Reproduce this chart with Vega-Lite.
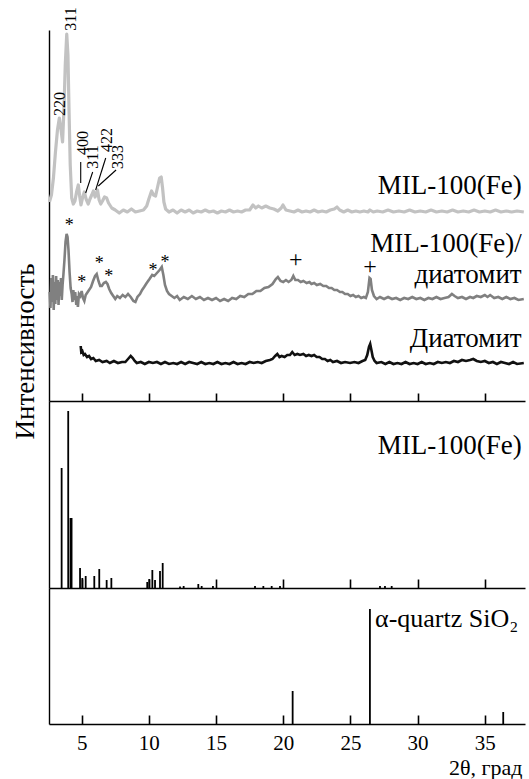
{
  "$schema": "https://vega.github.io/schema/vega-lite/v6.json",
  "autosize": {"type": "none"},
  "padding": {"left": 49, "top": 30, "right": 480, "bottom": 749},
  "bounds": "flush",
  "spacing": 0,
  "config": {
    "view": {"stroke": null},
    "axis": {"domainColor": "#000", "domainWidth": 1.4, "tickColor": "#000", "tickWidth": 1.6, "labelFont": "Liberation Serif", "titleFont": "Liberation Serif", "labelColor": "#000", "titleColor": "#000", "grid": false, "titleFontWeight": "normal"},
    "text": {"font": "Liberation Serif", "color": "#000"}
  },
  "datasets": {
    "mil": [[2.6,198],[2.75,205],[2.9,222],[3.05,248],[3.2,270],[3.34,282],[3.45,272],[3.58,258],[3.68,290],[3.78,335],[3.89,366],[3.98,345],[4.06,290],[4.15,235],[4.26,202],[4.38,196],[4.5,199],[4.62,208],[4.75,215],[4.85,204],[4.95,195],[5.08,203],[5.2,208],[5.33,201],[5.49,196],[5.62,201],[5.75,205],[5.87,209],[6.0,203],[6.1,207],[6.18,210],[6.3,200],[6.42,196],[6.55,199],[6.7,203],[6.86,202],[7.0,197],[7.24,192],[7.5,190],[7.8,187],[8.1,190],[8.4,188],[8.7,191],[9.0,188],[9.3,189],[9.6,190],[9.84,194],[10.0,201],[10.2,209],[10.35,205],[10.5,204],[10.65,213],[10.8,222],[10.92,223],[11.02,212],[11.12,198],[11.25,191],[11.5,188],[11.8,190],[12.1,187],[12.4,190],[12.7,188],[13.0,190],[13.3,187],[13.6,189],[13.9,188],[14.2,190],[14.5,188],[14.8,189],[15.1,187],[15.4,189],[15.7,188],[16.0,190],[16.3,188],[16.6,189],[16.9,188],[17.2,190],[17.5,190],[17.75,195],[17.95,192],[18.15,194],[18.4,192],[18.7,194],[19.0,192],[19.3,191],[19.6,189],[19.85,192],[19.98,195],[20.2,190],[20.5,189],[20.8,188],[21.1,190],[21.4,188],[21.7,189],[22.0,188],[22.3,190],[22.6,188],[22.9,189],[23.2,188],[23.5,190],[23.8,191],[24.0,193],[24.2,190],[24.5,188],[24.8,190],[25.1,188],[25.4,189],[25.7,188],[26.0,189],[26.3,188],[26.45,190],[26.7,188],[27.0,189],[27.4,188],[27.8,190],[28.2,188],[28.6,189],[29.0,188],[29.4,190],[29.8,188],[30.2,189],[30.6,188],[31.0,190],[31.4,188],[31.8,189],[32.2,188],[32.6,190],[33.0,188],[33.4,189],[33.8,188],[34.2,190],[34.6,188],[35.0,189],[35.4,188],[35.8,190],[36.2,188],[36.6,189],[37.0,188],[37.4,189],[37.9,188]],
    "comp": [[2.62,108],[2.68,92],[2.74,122],[2.8,98],[2.86,125],[2.92,90],[2.98,118],[3.04,96],[3.1,124],[3.16,100],[3.22,120],[3.28,95],[3.34,118],[3.4,104],[3.46,122],[3.52,100],[3.58,115],[3.64,125],[3.72,140],[3.8,158],[3.88,166],[3.95,163],[4.02,150],[4.1,128],[4.18,112],[4.26,106],[4.32,98],[4.38,110],[4.45,100],[4.52,108],[4.6,95],[4.66,104],[4.72,93],[4.8,106],[4.9,104],[5.0,109],[5.1,102],[5.2,99],[5.3,105],[5.4,107],[5.55,110],[5.7,113],[5.85,119],[6.0,124],[6.12,126],[6.25,119],[6.38,114],[6.5,114],[6.65,117],[6.8,118],[6.92,116],[7.05,111],[7.2,107],[7.35,104],[7.5,101],[7.65,104],[7.85,102],[8.05,105],[8.25,103],[8.45,106],[8.65,103],[8.85,99],[9.0,98],[9.15,103],[9.34,106],[9.5,110],[9.65,113],[9.84,117],[10.05,121],[10.25,125],[10.4,124],[10.6,127],[10.8,130],[10.96,133],[11.08,125],[11.2,115],[11.35,109],[11.5,106],[11.7,104],[11.9,102],[12.1,104],[12.3,100],[12.6,103],[12.9,101],[13.2,104],[13.5,101],[13.8,103],[14.1,100],[14.4,102],[14.7,100],[15.0,102],[15.3,99],[15.6,101],[15.9,99],[16.2,102],[16.5,101],[16.8,104],[17.1,103],[17.4,106],[17.7,106],[18.0,109],[18.3,109],[18.6,112],[18.9,113],[19.2,116],[19.45,121],[19.6,123],[19.8,119],[20.0,118],[20.2,120],[20.4,118],[20.6,120],[20.75,124],[20.9,120],[21.1,120],[21.3,118],[21.5,119],[21.74,117],[21.95,118],[22.1,116],[22.3,117],[22.5,115],[22.75,116],[22.98,114],[23.2,114],[23.4,112],[23.6,112],[23.8,110],[24.0,110],[24.22,108],[24.4,108],[24.6,106],[24.8,106],[25.0,104],[25.2,105],[25.4,103],[25.6,104],[25.8,102],[26.0,103],[26.15,102],[26.3,108],[26.42,122],[26.5,121],[26.6,110],[26.75,104],[26.95,101],[27.2,103],[27.5,101],[27.8,103],[28.1,101],[28.4,102],[28.7,100],[29.0,102],[29.3,101],[29.6,103],[29.9,101],[30.2,102],[30.5,100],[30.8,102],[31.1,101],[31.4,103],[31.7,101],[32.0,102],[32.3,103],[32.55,106],[32.75,104],[33.0,102],[33.3,103],[33.6,101],[33.9,103],[34.14,102],[34.4,104],[34.7,103],[35.0,105],[35.2,103],[35.4,105],[35.7,102],[36.0,103],[36.3,101],[36.6,103],[36.9,101],[37.2,102],[37.5,100],[37.9,101]],
    "diat": [[4.93,54],[4.97,48],[5.05,49],[5.15,45],[5.25,46],[5.4,43],[5.55,44],[5.7,41],[5.87,42],[6.05,39],[6.3,40],[6.55,38],[6.86,39],[7.1,37],[7.4,39],[7.7,37],[8.0,38],[8.25,38],[8.45,41],[8.65,44],[8.8,42],[8.95,39],[9.1,37],[9.4,38],[9.7,36],[10.0,38],[10.3,37],[10.6,38],[10.9,36],[11.2,38],[11.5,36],[11.82,37],[12.1,36],[12.4,38],[12.7,36],[13.0,38],[13.3,37],[13.6,36],[13.9,38],[14.2,36],[14.5,37],[14.8,36],[15.1,38],[15.4,36],[15.7,37],[16.0,36],[16.3,38],[16.6,36],[16.9,37],[17.2,36],[17.5,38],[17.8,37],[18.1,38],[18.4,37],[18.7,39],[19.01,40],[19.2,41],[19.4,44],[19.56,46],[19.72,43],[19.88,44],[20.1,43],[20.3,45],[20.5,45],[20.67,48],[20.85,45],[21.05,46],[21.25,45],[21.5,46],[21.7,44],[21.9,45],[22.1,44],[22.3,45],[22.49,43],[22.7,43],[22.9,41],[23.1,41],[23.3,39],[23.5,40],[23.7,38],[24.0,39],[24.3,37],[24.6,38],[24.97,37],[25.3,38],[25.6,37],[25.9,39],[26.1,40],[26.25,45],[26.38,53],[26.47,56],[26.56,50],[26.66,43],[26.8,39],[26.95,37],[27.3,38],[27.6,36],[27.9,38],[28.2,36],[28.5,37],[28.8,36],[29.1,38],[29.4,36],[29.7,37],[30.0,36],[30.3,38],[30.6,36],[30.9,37],[31.2,36],[31.5,38],[31.8,37],[32.1,38],[32.4,37],[32.7,39],[33.0,38],[33.3,40],[33.6,39],[33.9,40],[34.14,41],[34.4,39],[34.7,38],[35.0,39],[35.3,37],[35.6,38],[35.9,36],[36.2,38],[36.5,37],[36.8,36],[37.1,38],[37.4,36],[37.9,37]],
    "labels": [{"x":37.74,"h":206,"t":"MIL-100(Fe)"},{"x":37.74,"h":148,"t":"MIL-100(Fe)/"},{"x":37.74,"h":117,"t":"диатомит"},{"x":37.74,"h":53,"t":"Диатомит"}],
    "miller": [{"x":3.39,"h":296,"t":"220"},{"x":4.24,"h":381,"t":"311"},{"x":5.1,"h":257,"t":"400"},{"x":5.84,"h":243,"t":"311"},{"x":6.89,"h":260,"t":"422"},{"x":7.67,"h":243,"t":"333"}],
    "leaders": [{"x":4.93,"h":238,"x2":4.93,"h2":217},{"x":5.82,"h":228,"x2":5.30,"h2":207},{"x":6.79,"h":242,"x2":6.04,"h2":210},{"x":7.56,"h":230,"x2":6.24,"h2":214}],
    "stars": [{"x":4.08,"h":177},{"x":5.0,"h":120},{"x":6.3,"h":139},{"x":7.02,"h":126},{"x":10.3,"h":132},{"x":11.2,"h":140}],
    "plus": [{"x":20.93,"h":139},{"x":26.46,"h":132}],
    "sim": [{"x":3.51,"h":120},{"x":4.0,"h":177},{"x":4.17,"h":70},{"x":4.25,"h":70},{"x":4.88,"h":20},{"x":5.05,"h":10},{"x":5.3,"h":12},{"x":5.94,"h":12},{"x":6.31,"h":19},{"x":6.86,"h":8},{"x":7.21,"h":10},{"x":9.88,"h":6},{"x":10.03,"h":9},{"x":10.26,"h":18},{"x":10.46,"h":8},{"x":10.83,"h":17},{"x":11.03,"h":25},{"x":12.32,"h":1.5},{"x":12.59,"h":2},{"x":13.68,"h":4},{"x":13.93,"h":2},{"x":14.77,"h":2},{"x":17.9,"h":2},{"x":18.52,"h":2},{"x":19.14,"h":2},{"x":19.76,"h":2},{"x":27.2,"h":2},{"x":27.57,"h":2},{"x":28.07,"h":2}],
    "quartz": [{"x":20.7,"h":33},{"x":26.45,"h":115},{"x":36.37,"h":12}]
  },
  "vconcat": [
    {
      "width": 476,
      "height": 371,
      "encoding": {
        "x": {"type": "quantitative", "scale": {"domain": [2.57, 37.99], "nice": false, "zero": false},
              "axis": {"orient": "top", "offset": -371, "values": [5,10,15,20,25,30,35], "labels": false, "title": null, "tickSize": 8}},
        "y": {"type": "quantitative", "scale": {"domain": [-1, 370], "nice": false, "zero": false},
              "axis": {"ticks": false, "labels": false, "title": "Интенсивность", "titleAngle": 270, "titleX": -16, "titleY": 321, "titleAlign": "center", "titleBaseline": "alphabetic", "titleFontSize": 27}}
      },
      "layer": [
        {"data": {"name": "mil"}, "transform": [{"calculate": "datum[0]", "as": "x"}, {"calculate": "datum[1]", "as": "h"}],
         "mark": {"type": "line", "color": "#c2c2c2", "strokeWidth": 3.2, "strokeJoin": "round"},
         "encoding": {"x": {"field": "x"}, "y": {"field": "h"}}},
        {"data": {"name": "comp"}, "transform": [{"calculate": "datum[0]", "as": "x"}, {"calculate": "datum[1]", "as": "h"}],
         "mark": {"type": "line", "color": "#808080", "strokeWidth": 2.6},
         "encoding": {"x": {"field": "x"}, "y": {"field": "h"}}},
        {"data": {"name": "diat"}, "transform": [{"calculate": "datum[0]", "as": "x"}, {"calculate": "datum[1]", "as": "h"}],
         "mark": {"type": "line", "color": "#111", "strokeWidth": 2.6},
         "encoding": {"x": {"field": "x"}, "y": {"field": "h"}}},
        {"data": {"name": "labels"}, "mark": {"type": "text", "align": "right", "baseline": "alphabetic", "fontSize": 27},
         "encoding": {"x": {"field": "x"}, "y": {"field": "h"}, "text": {"field": "t"}}},
        {"data": {"name": "miller"}, "mark": {"type": "text", "align": "center", "baseline": "middle", "angle": 270, "fontSize": 16},
         "encoding": {"x": {"field": "x"}, "y": {"field": "h"}, "text": {"field": "t"}}},
        {"data": {"name": "leaders"}, "mark": {"type": "rule", "color": "#000", "strokeWidth": 1.1},
         "encoding": {"x": {"field": "x"}, "y": {"field": "h"}, "x2": {"field": "x2"}, "y2": {"field": "h2"}}},
        {"data": {"name": "stars"}, "mark": {"type": "text", "align": "center", "baseline": "alphabetic", "fontSize": 18, "dy": 8, "text": "*"},
         "encoding": {"x": {"field": "x"}, "y": {"field": "h"}}},
        {"data": {"name": "plus"}, "mark": {"type": "text", "align": "center", "baseline": "alphabetic", "fontSize": 24, "dy": 6, "text": "+"},
         "encoding": {"x": {"field": "x"}, "y": {"field": "h"}}},
        {"mark": {"type": "point", "shape": "M0,-1L0.7,1L-0.7,1Z", "filled": true, "color": "#000", "size": 100, "opacity": 1},
         "encoding": {"x": {"datum": 2.57}, "y": {"datum": 367}}}
      ]
    },
    {
      "width": 476,
      "height": 187,
      "data": {"name": "sim"},
      "encoding": {
        "x": {"type": "quantitative", "scale": {"domain": [2.57, 37.99], "nice": false, "zero": false},
              "axis": {"orient": "top", "offset": -187, "values": [5,10,15,20,25,30,35], "labels": false, "title": null, "tickSize": 9}},
        "y": {"type": "quantitative", "scale": {"domain": [0, 187], "nice": false, "zero": false},
              "axis": {"ticks": false, "labels": false, "title": null}}
      },
      "layer": [
        {"mark": {"type": "rule", "color": "#000", "strokeWidth": 1.8},
         "encoding": {"x": {"field": "x"}, "y": {"field": "h"}, "y2": {"datum": 0}}},
        {"data": {"values": [{"x": 37.74, "h": 134, "t": "MIL-100(Fe)"}]},
         "mark": {"type": "text", "align": "right", "baseline": "alphabetic", "fontSize": 27},
         "encoding": {"x": {"field": "x"}, "y": {"field": "h"}, "text": {"field": "t"}}}
      ]
    },
    {
      "width": 476,
      "height": 136,
      "data": {"name": "quartz"},
      "resolve": {"axis": {"x": "independent"}},
      "layer": [
        {"mark": {"type": "rule", "color": "#000", "strokeWidth": 1.8},
         "encoding": {
           "x": {"field": "x", "type": "quantitative", "scale": {"domain": [2.57, 37.99], "nice": false, "zero": false},
                 "axis": {"orient": "top", "offset": -136, "values": [5,10,15,20,25,30,35], "labels": false, "title": null, "tickSize": 9}},
           "y": {"field": "h", "type": "quantitative", "scale": {"domain": [0, 136], "nice": false, "zero": false},
                 "axis": {"ticks": false, "labels": false, "title": null}},
           "y2": {"datum": 0}}},
        {"data": {"values": [{"x": 26.83, "h": 97, "t": "α-quartz SiO₂"}]},
         "mark": {"type": "text", "align": "left", "baseline": "alphabetic", "fontSize": 26},
         "encoding": {
           "x": {"field": "x", "type": "quantitative",
                 "axis": {"orient": "bottom", "domain": false, "ticks": false, "values": [5,10,15,20,25,30,35], "labelFontSize": 21, "labelPadding": 8, "title": "2θ, град", "titleFontSize": 22, "titleAnchor": "end", "titleAlign": "right", "titleX": 473, "titleY": 50, "titleBaseline": "alphabetic"}},
           "y": {"field": "h", "type": "quantitative"},
           "text": {"field": "t"}}}
      ]
    }
  ]
}
